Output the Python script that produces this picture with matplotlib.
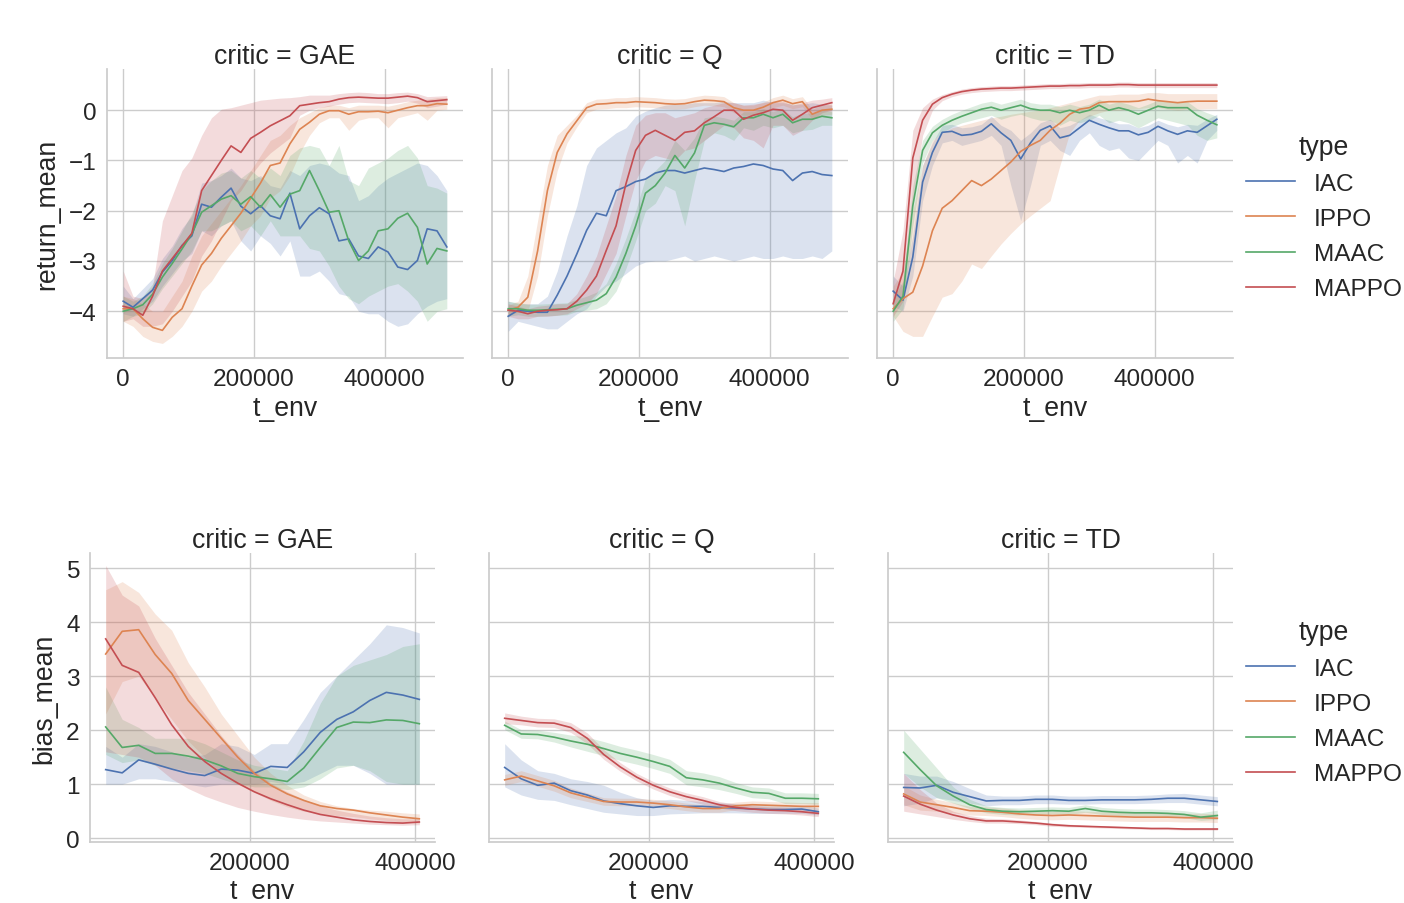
import matplotlib as mpl
mpl.use('Agg')
import matplotlib.pyplot as plt
from matplotlib.lines import Line2D

plt.rcParams['font.family'] = ['Liberation Sans', 'DejaVu Sans']
plt.rcParams['text.color'] = '.15'
plt.rcParams['axes.labelcolor'] = '.15'
plt.rcParams['xtick.color'] = '.15'
plt.rcParams['ytick.color'] = '.15'

tick_size = 17.6
label_size = 19.2

types = ["IAC", "IPPO", "MAAC", "MAPPO"]
critics = ["GAE", "Q", "TD"]
colors = ["#4C72B0", "#DD8452", "#55A868", "#C44E52"]

# ---- return_mean (top row), t_env every 15000 steps ----
t_ret = [i * 15000 for i in range(34)]

gae_iac = [-3.8, -3.92, -3.75, -3.58, -3.22, -2.99, -2.69, -2.5, -1.87, -1.93, -1.73, -1.55, -1.91, -2.06, -1.9, -2.1, -2.16,
           -1.65, -2.36, -2.1, -1.94, -2.06, -2.6, -2.56, -2.9, -2.95, -2.72, -2.82, -3.12, -3.17, -2.99, -2.36, -2.4, -2.72]
gae_iac_lo = [-4.05, -4.1, -3.95, -3.8, -3.5, -3.25, -3.0, -2.85, -2.4, -2.5, -2.3, -2.2, -2.6, -2.8, -2.5, -2.65, -2.9,
              -2.6, -3.3, -3.3, -3.2, -3.4, -3.65, -3.7, -4.0, -4.05, -4.05, -4.2, -4.3, -4.25, -4.05, -3.9, -3.8, -3.75]
gae_iac_hi = [-3.5, -3.75, -3.55, -3.35, -2.95, -2.7, -2.35, -2.1, -1.45, -1.4, -1.3, -1.15, -1.35, -1.4, -1.3, -1.5, -1.55,
              -1.2, -1.3, -1.1, -1.05, -1.1, -1.25, -1.3, -1.8, -1.7, -1.5, -1.35, -1.25, -1.15, -1.05, -1.1, -1.3, -1.6]
gae_ippo = [-3.95, -3.95, -4.15, -4.32, -4.38, -4.12, -3.95, -3.5, -3.08, -2.85, -2.55, -2.3, -2.05, -1.75, -1.45, -1.1, -1.05,
            -0.67, -0.38, -0.24, -0.08, -0.01, -0.01, -0.08, -0.03, -0.03, -0.02, -0.05, 0.0, 0.05, 0.09, 0.09, 0.13, 0.12]
gae_ippo_lo = [-4.2, -4.3, -4.5, -4.6, -4.64, -4.5, -4.3, -4.0, -3.6, -3.4, -3.1, -2.85, -2.6, -2.3, -2.1, -1.75, -1.6,
               -1.3, -0.85, -0.5, -0.25, -0.15, -0.15, -0.4, -0.2, -0.15, -0.15, -0.35, -0.15, -0.1, -0.05, -0.2, 0.0, 0.02]
gae_ippo_hi = [-3.7, -3.75, -3.85, -4.0, -4.0, -3.7, -3.4, -2.9, -2.5, -2.25, -2.0, -1.75, -1.5, -1.2, -0.9, -0.6, -0.5,
               -0.3, -0.15, -0.05, 0.05, 0.1, 0.1, 0.05, 0.1, 0.1, 0.1, 0.08, 0.12, 0.17, 0.2, 0.22, 0.25, 0.25]
gae_maac = [-4.0, -3.95, -3.87, -3.66, -3.32, -3.05, -2.76, -2.46, -2.03, -1.9, -1.77, -1.7, -1.87, -1.72, -1.93, -1.68, -1.93,
            -1.67, -1.6, -1.2, -1.6, -2.03, -2.0, -2.6, -2.99, -2.8, -2.4, -2.36, -2.15, -2.05, -2.33, -3.06, -2.75, -2.8]
gae_maac_lo = [-4.2, -4.1, -4.05, -3.85, -3.55, -3.3, -3.05, -2.8, -2.4, -2.4, -2.3, -2.2, -2.4, -2.3, -2.5, -2.2, -2.5,
               -2.5, -2.5, -2.75, -2.8, -3.1, -3.5, -3.75, -3.85, -3.7, -3.6, -3.5, -3.45, -3.6, -3.8, -4.2, -4.0, -3.95]
gae_maac_hi = [-3.7, -3.8, -3.7, -3.45, -3.05, -2.75, -2.4, -2.05, -1.6, -1.4, -1.25, -1.2, -1.35, -1.2, -1.35, -1.15, -1.3,
               -0.9, -0.75, -0.7, -0.75, -1.1, -0.7, -1.4, -1.5, -1.15, -1.05, -0.95, -0.8, -0.7, -0.95, -1.5, -1.55, -1.65]
gae_mappo = [-3.9, -3.95, -4.08, -3.7, -3.2, -2.95, -2.7, -2.45, -1.6, -1.3, -1.0, -0.71, -0.84, -0.56, -0.44, -0.31, -0.21,
             -0.11, 0.09, 0.12, 0.15, 0.17, 0.22, 0.25, 0.26, 0.25, 0.24, 0.24, 0.26, 0.28, 0.25, 0.17, 0.19, 0.21]
gae_mappo_lo = [-4.2, -4.15, -4.3, -4.3, -4.25, -4.0, -3.7, -3.4, -2.9, -2.6, -2.2, -1.8, -1.6, -1.3, -1.05, -0.85, -0.7,
                -0.55, -0.1, 0.0, 0.05, 0.08, 0.12, 0.15, 0.16, 0.15, 0.14, 0.13, 0.15, 0.18, 0.14, 0.05, 0.08, 0.12]
gae_mappo_hi = [-3.2, -3.7, -3.75, -3.5, -2.2, -1.7, -1.2, -0.95, -0.5, -0.15, 0.02, 0.05, 0.1, 0.15, 0.2, 0.22, 0.24,
                0.25, 0.27, 0.3, 0.3, 0.3, 0.33, 0.35, 0.36, 0.35, 0.33, 0.33, 0.35, 0.36, 0.33, 0.27, 0.28, 0.29]

q_iac = [-4.1, -3.98, -4.0, -4.02, -4.02, -3.68, -3.3, -2.86, -2.39, -2.05, -2.1, -1.6, -1.52, -1.42, -1.37, -1.25, -1.2,
         -1.2, -1.25, -1.2, -1.15, -1.18, -1.22, -1.15, -1.12, -1.07, -1.1, -1.17, -1.2, -1.4, -1.25, -1.22, -1.28, -1.3]
q_iac_lo = [-4.4, -4.2, -4.25, -4.3, -4.35, -4.35, -4.2, -4.05, -3.95, -3.7, -3.5, -3.4, -3.25, -3.1, -3.02, -3.0, -3.0,
            -2.95, -2.9, -3.0, -2.95, -2.9, -2.95, -3.0, -2.95, -2.9, -2.95, -2.95, -2.9, -2.95, -2.95, -2.9, -2.95, -2.8]
q_iac_hi = [-3.8, -3.85, -3.85, -3.85, -3.7, -3.2, -2.5, -1.9, -1.1, -0.75, -0.6, -0.45, -0.35, -0.12, -0.02, 0.05, 0.1,
            0.12, 0.12, 0.15, 0.15, 0.15, 0.18, 0.15, 0.15, 0.15, 0.2, 0.15, 0.15, 0.12, 0.12, 0.15, 0.12, 0.1]
q_ippo = [-3.98, -3.92, -3.72, -2.8, -1.6, -0.84, -0.47, -0.21, 0.05, 0.12, 0.13, 0.15, 0.15, 0.17, 0.16, 0.15, 0.13,
          0.12, 0.13, 0.17, 0.2, 0.19, 0.17, 0.05, 0.0, 0.0, 0.06, 0.15, 0.2, 0.13, 0.17, -0.08, 0.0, 0.02]
q_ippo_lo = [-4.08, -4.02, -4.0, -3.3, -2.1, -1.2, -0.65, -0.33, -0.05, 0.02, 0.03, 0.05, 0.05, 0.07, 0.06, 0.05, 0.03,
             0.02, 0.03, 0.07, 0.1, 0.09, 0.07, -0.05, -0.1, -0.1, -0.04, 0.05, 0.1, 0.03, 0.07, -0.18, -0.1, -0.08]
q_ippo_hi = [-3.88, -3.8, -3.3, -2.2, -1.1, -0.5, -0.3, -0.1, 0.15, 0.22, 0.23, 0.25, 0.25, 0.27, 0.26, 0.25, 0.23,
             0.22, 0.23, 0.27, 0.3, 0.29, 0.27, 0.15, 0.1, 0.1, 0.16, 0.25, 0.3, 0.23, 0.27, 0.02, 0.1, 0.12]
q_maac = [-3.95, -3.95, -3.98, -3.98, -3.97, -3.96, -3.95, -3.88, -3.83, -3.78, -3.65, -3.32, -2.85, -2.3, -1.65, -1.5, -1.25,
          -0.9, -1.15, -0.85, -0.3, -0.25, -0.28, -0.33, -0.15, -0.15, -0.08, -0.15, -0.08, -0.25, -0.18, -0.18, -0.12, -0.15]
q_maac_lo = [-4.1, -4.07, -4.1, -4.1, -4.09, -4.08, -4.07, -4.0, -3.98, -3.95, -3.85, -3.6, -3.15, -2.6, -2.0, -1.85, -1.5,
             -1.6, -2.3, -1.4, -0.6, -0.45, -0.5, -0.6, -0.35, -0.4, -0.3, -0.35, -0.3, -0.45, -0.4, -0.38, -0.3, -0.3]
q_maac_hi = [-3.8, -3.83, -3.86, -3.86, -3.85, -3.84, -3.83, -3.76, -3.7, -3.62, -3.45, -3.05, -2.55, -2.0, -1.35, -1.2, -1.0,
             -0.6, -0.8, -0.55, -0.15, -0.12, -0.15, -0.2, -0.03, -0.03, 0.03, -0.03, 0.03, -0.13, -0.06, -0.06, 0.0, -0.03]
q_mappo = [-3.98, -4.0, -4.05, -4.0, -3.98, -3.97, -3.95, -3.8, -3.58, -3.3, -2.79, -2.3, -1.47, -0.8, -0.5, -0.4, -0.5,
           -0.6, -0.44, -0.41, -0.25, -0.13, 0.0, 0.0, -0.18, -0.1, -0.05, 0.02, 0.0, -0.2, -0.08, 0.05, 0.1, 0.15]
q_mappo_lo = [-4.1, -4.15, -4.15, -4.1, -4.1, -4.08, -4.05, -3.95, -3.85, -3.65, -3.25, -2.85, -2.1, -1.4, -1.0, -0.9, -0.95,
              -1.0, -0.8, -0.75, -0.6, -0.45, -0.3, -0.35, -0.55, -0.6, -0.75, -0.3, -0.3, -0.5, -0.4, -0.2, -0.05, 0.0]
q_mappo_hi = [-3.85, -3.9, -3.95, -3.9, -3.88, -3.85, -3.85, -3.65, -3.3, -2.9, -2.3, -1.7, -0.9, -0.3, -0.1, -0.05, -0.05,
              -0.15, -0.1, -0.05, 0.05, 0.1, 0.15, 0.15, 0.1, 0.12, 0.15, 0.18, 0.18, 0.1, 0.15, 0.2, 0.22, 0.25]

td_iac = [-3.6, -3.78, -2.92, -1.43, -0.84, -0.44, -0.42, -0.5, -0.48, -0.42, -0.27, -0.45, -0.6, -0.97, -0.65, -0.4, -0.31,
          -0.55, -0.5, -0.35, -0.2, -0.28, -0.35, -0.41, -0.41, -0.49, -0.44, -0.32, -0.41, -0.48, -0.41, -0.44, -0.31, -0.18]
td_iac_lo = [-3.9, -4.0, -3.3, -1.8, -1.1, -0.65, -0.6, -0.7, -0.65, -0.6, -0.5, -0.7, -1.5, -2.2, -1.5, -0.7, -0.6,
             -0.8, -0.9, -0.6, -0.45, -0.7, -0.8, -0.75, -0.95, -1.0, -0.8, -0.6, -0.7, -1.05, -0.9, -1.05, -0.6, -0.4]
td_iac_hi = [-3.3, -3.5, -2.5, -1.1, -0.65, -0.3, -0.28, -0.35, -0.33, -0.28, -0.12, -0.3, -0.4, -0.6, -0.45, -0.25, -0.18,
             -0.35, -0.3, -0.2, -0.08, -0.15, -0.2, -0.27, -0.27, -0.35, -0.3, -0.2, -0.28, -0.33, -0.28, -0.3, -0.18, -0.08]
td_ippo = [-3.95, -3.75, -3.62, -3.1, -2.4, -1.95, -1.8, -1.6, -1.4, -1.5, -1.37, -1.2, -1.03, -0.82, -0.7, -0.6, -0.4,
           -0.26, -0.08, 0.02, 0.05, 0.15, 0.17, 0.17, 0.17, 0.18, 0.22, 0.19, 0.17, 0.15, 0.17, 0.18, 0.18, 0.18]
td_ippo_lo = [-4.1, -4.4, -4.5, -4.5, -4.1, -3.72, -3.65, -3.4, -3.06, -3.15, -2.9, -2.66, -2.45, -2.26, -2.1, -1.95, -1.8,
              -1.1, -0.45, -0.2, -0.12, -0.05, 0.0, 0.0, 0.02, 0.03, 0.05, 0.05, 0.02, 0.0, 0.02, 0.02, 0.03, 0.03]
td_ippo_hi = [-3.5, -3.2, -2.0, -1.1, -0.6, -0.45, -0.35, -0.3, -0.25, -0.2, -0.15, -0.12, -0.08, -0.05, -0.02, 0.0, 0.05,
              0.1, 0.15, 0.2, 0.25, 0.3, 0.3, 0.32, 0.32, 0.32, 0.35, 0.35, 0.33, 0.33, 0.33, 0.33, 0.33, 0.33]
td_maac = [-4.0, -3.7, -1.9, -0.8, -0.45, -0.3, -0.2, -0.12, -0.05, 0.02, 0.06, 0.0, 0.05, 0.1, 0.03, 0.0, 0.0,
           -0.05, 0.0, -0.05, 0.0, 0.1, 0.0, 0.05, 0.0, -0.08, 0.0, 0.08, 0.05, 0.05, 0.05, -0.1, -0.2, -0.29]
td_maac_lo = [-4.2, -3.95, -2.3, -1.05, -0.6, -0.45, -0.33, -0.25, -0.2, -0.15, -0.1, -0.18, -0.12, -0.08, -0.15, -0.2, -0.2,
              -0.3, -0.2, -0.25, -0.2, -0.1, -0.25, -0.2, -0.25, -0.35, -0.25, -0.15, -0.2, -0.25, -0.3, -0.5, -0.6, -0.55]
td_maac_hi = [-3.75, -3.4, -1.5, -0.6, -0.32, -0.18, -0.08, 0.0, 0.07, 0.14, 0.18, 0.12, 0.17, 0.22, 0.15, 0.12, 0.12,
              0.07, 0.12, 0.07, 0.12, 0.22, 0.12, 0.17, 0.12, 0.05, 0.12, 0.2, 0.17, 0.17, 0.17, 0.03, -0.05, -0.12]
td_mappo = [-3.85, -3.2, -0.95, -0.2, 0.12, 0.25, 0.32, 0.37, 0.4, 0.42, 0.43, 0.44, 0.44, 0.45, 0.46, 0.47, 0.48,
            0.48, 0.49, 0.49, 0.5, 0.5, 0.5, 0.51, 0.51, 0.5, 0.5, 0.5, 0.5, 0.5, 0.5, 0.5, 0.5, 0.5]
td_mappo_lo = [-4.1, -3.8, -1.8, -0.5, 0.0, 0.19, 0.27, 0.32, 0.35, 0.37, 0.38, 0.39, 0.39, 0.4, 0.41, 0.42, 0.43,
               0.43, 0.44, 0.44, 0.45, 0.45, 0.45, 0.46, 0.46, 0.45, 0.45, 0.45, 0.45, 0.45, 0.45, 0.45, 0.45, 0.45]
td_mappo_hi = [-3.4, -2.4, -0.4, 0.05, 0.22, 0.31, 0.37, 0.42, 0.45, 0.47, 0.48, 0.49, 0.49, 0.5, 0.51, 0.52, 0.53,
               0.53, 0.54, 0.54, 0.55, 0.55, 0.55, 0.56, 0.56, 0.55, 0.55, 0.55, 0.55, 0.55, 0.55, 0.55, 0.55, 0.55]

# ---- bias_mean (bottom row), t_env every 20000 steps from 25000 ----
t_bias = [25000 + i * 20000 for i in range(20)]

bgae_iac = [1.27, 1.21, 1.45, 1.37, 1.28, 1.2, 1.16, 1.28, 1.26, 1.2, 1.33, 1.31, 1.6, 1.96, 2.2, 2.34, 2.55, 2.7, 2.65, 2.57]
bgae_iac_lo = [1.0, 1.0, 1.1, 1.1, 1.05, 1.0, 0.95, 1.0, 1.0, 1.0, 1.05, 1.0, 1.05, 1.2, 1.35, 1.35, 1.2, 1.0, 1.0, 1.0]
bgae_iac_hi = [1.7, 1.5, 1.75, 1.7, 1.6, 1.5, 1.55, 1.75, 1.7, 1.55, 1.75, 1.75, 2.2, 2.7, 3.0, 3.3, 3.6, 3.95, 3.9, 3.8]
bgae_ippo = [3.41, 3.83, 3.86, 3.4, 3.05, 2.55, 2.2, 1.85, 1.5, 1.2, 0.98, 0.82, 0.7, 0.6, 0.55, 0.52, 0.47, 0.43, 0.39, 0.36]
bgae_ippo_lo = [2.3, 2.9, 3.0, 2.6, 2.2, 1.8, 1.5, 1.2, 1.0, 0.85, 0.7, 0.58, 0.5, 0.45, 0.42, 0.4, 0.36, 0.33, 0.3, 0.28]
bgae_ippo_hi = [4.6, 4.75, 4.55, 4.15, 3.85, 3.25, 2.8, 2.3, 1.9, 1.5, 1.2, 0.98, 0.8, 0.68, 0.6, 0.55, 0.52, 0.5, 0.47, 0.45]
bgae_maac = [2.06, 1.68, 1.72, 1.57, 1.57, 1.52, 1.45, 1.34, 1.2, 1.14, 1.1, 1.05, 1.3, 1.68, 2.05, 2.15, 2.14, 2.19, 2.18, 2.12]
bgae_maac_lo = [1.55, 1.4, 1.45, 1.35, 1.3, 1.25, 1.2, 1.1, 1.0, 0.95, 0.95, 0.9, 0.95, 1.1, 1.3, 1.35, 1.25, 1.05, 1.0, 1.0]
bgae_maac_hi = [2.8, 2.2, 2.05, 1.85, 1.85, 1.85, 1.75, 1.6, 1.45, 1.35, 1.3, 1.25, 1.8, 2.5, 3.0, 3.2, 3.3, 3.4, 3.55, 3.6]
bgae_mappo = [3.69, 3.2, 3.07, 2.6, 2.1, 1.7, 1.42, 1.2, 1.02, 0.86, 0.73, 0.62, 0.52, 0.44, 0.39, 0.34, 0.31, 0.29, 0.28, 0.3]
bgae_mappo_lo = [1.6, 1.55, 1.5, 1.35, 1.1, 0.92, 0.78, 0.67, 0.57, 0.5, 0.44, 0.39, 0.35, 0.32, 0.3, 0.28, 0.26, 0.25, 0.24, 0.25]
bgae_mappo_hi = [5.05, 4.5, 4.3, 3.7, 3.2, 2.7, 2.3, 1.9, 1.55, 1.25, 1.02, 0.86, 0.72, 0.6, 0.52, 0.46, 0.41, 0.38, 0.36, 0.36]

bq_iac = [1.31, 1.1, 0.98, 1.02, 0.88, 0.8, 0.69, 0.64, 0.6, 0.57, 0.6, 0.59, 0.59, 0.57, 0.56, 0.54, 0.53, 0.53, 0.54, 0.49]
bq_iac_lo = [0.95, 0.8, 0.72, 0.7, 0.62, 0.55, 0.48, 0.45, 0.42, 0.42, 0.45, 0.46, 0.47, 0.47, 0.47, 0.46, 0.46, 0.46, 0.46, 0.43]
bq_iac_hi = [1.75, 1.45, 1.25, 1.2, 1.1, 1.05, 0.98, 0.85, 0.75, 0.7, 0.72, 0.7, 0.68, 0.66, 0.64, 0.62, 0.6, 0.6, 0.61, 0.56]
bq_ippo = [1.08, 1.15, 1.06, 0.97, 0.84, 0.76, 0.68, 0.67, 0.67, 0.65, 0.62, 0.58, 0.55, 0.55, 0.6, 0.62, 0.61, 0.6, 0.59, 0.59]
bq_ippo_lo = [0.98, 1.05, 0.96, 0.87, 0.75, 0.68, 0.61, 0.6, 0.6, 0.58, 0.55, 0.51, 0.48, 0.48, 0.53, 0.55, 0.54, 0.53, 0.52, 0.52]
bq_ippo_hi = [1.18, 1.25, 1.16, 1.07, 0.93, 0.84, 0.75, 0.74, 0.74, 0.72, 0.69, 0.65, 0.62, 0.62, 0.67, 0.69, 0.68, 0.67, 0.66, 0.66]
bq_maac = [2.09, 1.93, 1.92, 1.87, 1.8, 1.74, 1.66, 1.57, 1.5, 1.42, 1.33, 1.12, 1.08, 1.02, 0.93, 0.85, 0.83, 0.74, 0.74, 0.73]
bq_maac_lo = [2.01, 1.85, 1.84, 1.78, 1.69, 1.61, 1.53, 1.44, 1.37, 1.29, 1.2, 0.99, 0.95, 0.9, 0.83, 0.75, 0.73, 0.64, 0.64, 0.63]
bq_maac_hi = [2.17, 2.01, 2.0, 1.96, 1.91, 1.87, 1.79, 1.7, 1.63, 1.55, 1.46, 1.25, 1.21, 1.14, 1.03, 0.95, 0.93, 0.84, 0.84, 0.83]
bq_mappo = [2.22, 2.18, 2.14, 2.13, 2.05, 1.85, 1.55, 1.32, 1.13, 0.98, 0.86, 0.77, 0.7, 0.62, 0.57, 0.54, 0.52, 0.51, 0.49, 0.46]
bq_mappo_lo = [2.12, 2.1, 2.06, 2.05, 1.96, 1.75, 1.46, 1.24, 1.06, 0.91, 0.79, 0.7, 0.63, 0.56, 0.51, 0.48, 0.46, 0.45, 0.43, 0.4]
bq_mappo_hi = [2.32, 2.26, 2.22, 2.21, 2.14, 1.95, 1.64, 1.4, 1.2, 1.05, 0.93, 0.84, 0.77, 0.68, 0.63, 0.6, 0.58, 0.57, 0.55, 0.52]

btd_iac = [0.94, 0.93, 0.98, 0.85, 0.77, 0.69, 0.7, 0.7, 0.72, 0.72, 0.7, 0.7, 0.71, 0.71, 0.71, 0.72, 0.74, 0.74, 0.71, 0.68]
btd_iac_lo = [0.6, 0.65, 0.75, 0.7, 0.65, 0.6, 0.62, 0.62, 0.64, 0.64, 0.63, 0.63, 0.64, 0.64, 0.64, 0.65, 0.66, 0.66, 0.63, 0.6]
btd_iac_hi = [1.2, 1.15, 1.15, 1.05, 0.92, 0.8, 0.78, 0.78, 0.8, 0.8, 0.78, 0.78, 0.79, 0.79, 0.79, 0.8, 0.82, 0.83, 0.8, 0.77]
btd_ippo = [0.82, 0.67, 0.62, 0.57, 0.51, 0.5, 0.48, 0.45, 0.43, 0.42, 0.43, 0.42, 0.41, 0.4, 0.39, 0.39, 0.39, 0.38, 0.38, 0.37]
btd_ippo_lo = [0.62, 0.52, 0.5, 0.47, 0.43, 0.42, 0.4, 0.37, 0.35, 0.34, 0.35, 0.34, 0.33, 0.32, 0.31, 0.31, 0.31, 0.3, 0.3, 0.29]
btd_ippo_hi = [0.97, 0.8, 0.72, 0.66, 0.59, 0.58, 0.56, 0.53, 0.51, 0.5, 0.51, 0.5, 0.49, 0.48, 0.47, 0.47, 0.47, 0.46, 0.46, 0.45]
btd_maac = [1.59, 1.27, 0.97, 0.78, 0.62, 0.53, 0.5, 0.49, 0.5, 0.51, 0.5, 0.55, 0.5, 0.48, 0.47, 0.47, 0.46, 0.44, 0.39, 0.42]
btd_maac_lo = [1.2, 0.95, 0.75, 0.65, 0.55, 0.47, 0.44, 0.43, 0.44, 0.45, 0.44, 0.48, 0.44, 0.42, 0.41, 0.41, 0.4, 0.38, 0.33, 0.35]
btd_maac_hi = [2.0, 1.65, 1.3, 0.95, 0.72, 0.6, 0.57, 0.56, 0.57, 0.58, 0.57, 0.62, 0.57, 0.55, 0.54, 0.54, 0.53, 0.51, 0.47, 0.52]
btd_mappo = [0.78, 0.63, 0.52, 0.43, 0.36, 0.32, 0.32, 0.3, 0.28, 0.25, 0.23, 0.22, 0.21, 0.2, 0.19, 0.18, 0.18, 0.17, 0.17, 0.17]
btd_mappo_lo = [0.5, 0.45, 0.4, 0.35, 0.31, 0.28, 0.28, 0.27, 0.25, 0.22, 0.21, 0.2, 0.19, 0.18, 0.17, 0.16, 0.16, 0.15, 0.15, 0.15]
btd_mappo_hi = [1.2, 0.9, 0.65, 0.5, 0.42, 0.37, 0.36, 0.34, 0.31, 0.28, 0.26, 0.24, 0.23, 0.22, 0.21, 0.2, 0.2, 0.19, 0.19, 0.19]

ret = {
    "GAE": [(gae_iac, gae_iac_lo, gae_iac_hi), (gae_ippo, gae_ippo_lo, gae_ippo_hi),
            (gae_maac, gae_maac_lo, gae_maac_hi), (gae_mappo, gae_mappo_lo, gae_mappo_hi)],
    "Q": [(q_iac, q_iac_lo, q_iac_hi), (q_ippo, q_ippo_lo, q_ippo_hi),
          (q_maac, q_maac_lo, q_maac_hi), (q_mappo, q_mappo_lo, q_mappo_hi)],
    "TD": [(td_iac, td_iac_lo, td_iac_hi), (td_ippo, td_ippo_lo, td_ippo_hi),
           (td_maac, td_maac_lo, td_maac_hi), (td_mappo, td_mappo_lo, td_mappo_hi)],
}
bias = {
    "GAE": [(bgae_iac, bgae_iac_lo, bgae_iac_hi), (bgae_ippo, bgae_ippo_lo, bgae_ippo_hi),
            (bgae_maac, bgae_maac_lo, bgae_maac_hi), (bgae_mappo, bgae_mappo_lo, bgae_mappo_hi)],
    "Q": [(bq_iac, bq_iac_lo, bq_iac_hi), (bq_ippo, bq_ippo_lo, bq_ippo_hi),
          (bq_maac, bq_maac_lo, bq_maac_hi), (bq_mappo, bq_mappo_lo, bq_mappo_hi)],
    "TD": [(btd_iac, btd_iac_lo, btd_iac_hi), (btd_ippo, btd_ippo_lo, btd_ippo_hi),
           (btd_maac, btd_maac_lo, btd_maac_hi), (btd_mappo, btd_mappo_lo, btd_mappo_hi)],
}

W, H = 1404, 904
fig = plt.figure(figsize=(W / 100, H / 100), dpi=100)


def px_axes(left, top, width, height):
    return fig.add_axes([left / W, 1 - (top + height) / H, width / W, height / H])


def style(ax):
    ax.set_facecolor('white')
    ax.grid(True, color='.8', linewidth=1)
    ax.set_axisbelow(True)
    for s in ['top', 'right']:
        ax.spines[s].set_visible(False)
    for s in ['left', 'bottom']:
        ax.spines[s].set_color('.8')
        ax.spines[s].set_linewidth(1.25)
    ax.tick_params(length=0, labelsize=tick_size, pad=7.5)


def draw(ax, t, series):
    for (m, lo, hi), c in zip(series, colors):
        ax.plot(t, m, color=c, lw=1.2)
        ax.fill_between(t, lo, hi, color=c, alpha=0.2, linewidth=0)


top_lefts = [107, 492, 877]
for i, cr in enumerate(critics):
    ax = px_axes(top_lefts[i], 70, 356, 289)
    style(ax)
    draw(ax, t_ret, ret[cr])
    ax.set_xlim(-24750, 519750)
    ax.set_ylim(-4.93, 0.82)
    ax.set_xticks([0, 200000, 400000])
    ax.set_xticklabels(["0", "200000", "400000"])
    ax.set_yticks([-4, -3, -2, -1, 0])
    ax.set_title("critic = " + cr, fontsize=label_size, pad=4.5)
    ax.set_xlabel("t_env", fontsize=label_size, labelpad=3.5)
    if i == 0:
        ax.set_yticklabels(["\u22124", "\u22123", "\u22122", "\u22121", "0"])
        ax.set_ylabel("return_mean", fontsize=label_size, labelpad=6)
    else:
        ax.set_yticklabels([])

bot_lefts = [90, 489, 888]
for i, cr in enumerate(critics):
    ax = px_axes(bot_lefts[i], 554, 345, 289)
    style(ax)
    draw(ax, t_bias, bias[cr])
    ax.set_xlim(6000, 424000)
    ax.set_ylim(-0.07, 5.28)
    ax.set_xticks([200000, 400000])
    ax.set_xticklabels(["200000", "400000"])
    ax.set_yticks([0, 1, 2, 3, 4, 5])
    ax.set_title("critic = " + cr, fontsize=label_size, pad=4.5)
    ax.set_xlabel("t_env", fontsize=label_size, labelpad=2.5)
    if i == 0:
        ax.set_ylabel("bias_mean", fontsize=label_size, labelpad=6)
    else:
        ax.set_yticklabels([])

handles = [Line2D([], [], color=c, lw=1.2) for c in colors]
for cy in [218, 703]:
    leg = fig.legend(handles, types, title="type", loc='center left',
                     bbox_to_anchor=(1236 / W, 1 - cy / H), frameon=False,
                     fontsize=tick_size, title_fontsize=label_size,
                     handlelength=2.0, labelspacing=0.53, borderaxespad=0)

fig.savefig("out.png", dpi=100)
